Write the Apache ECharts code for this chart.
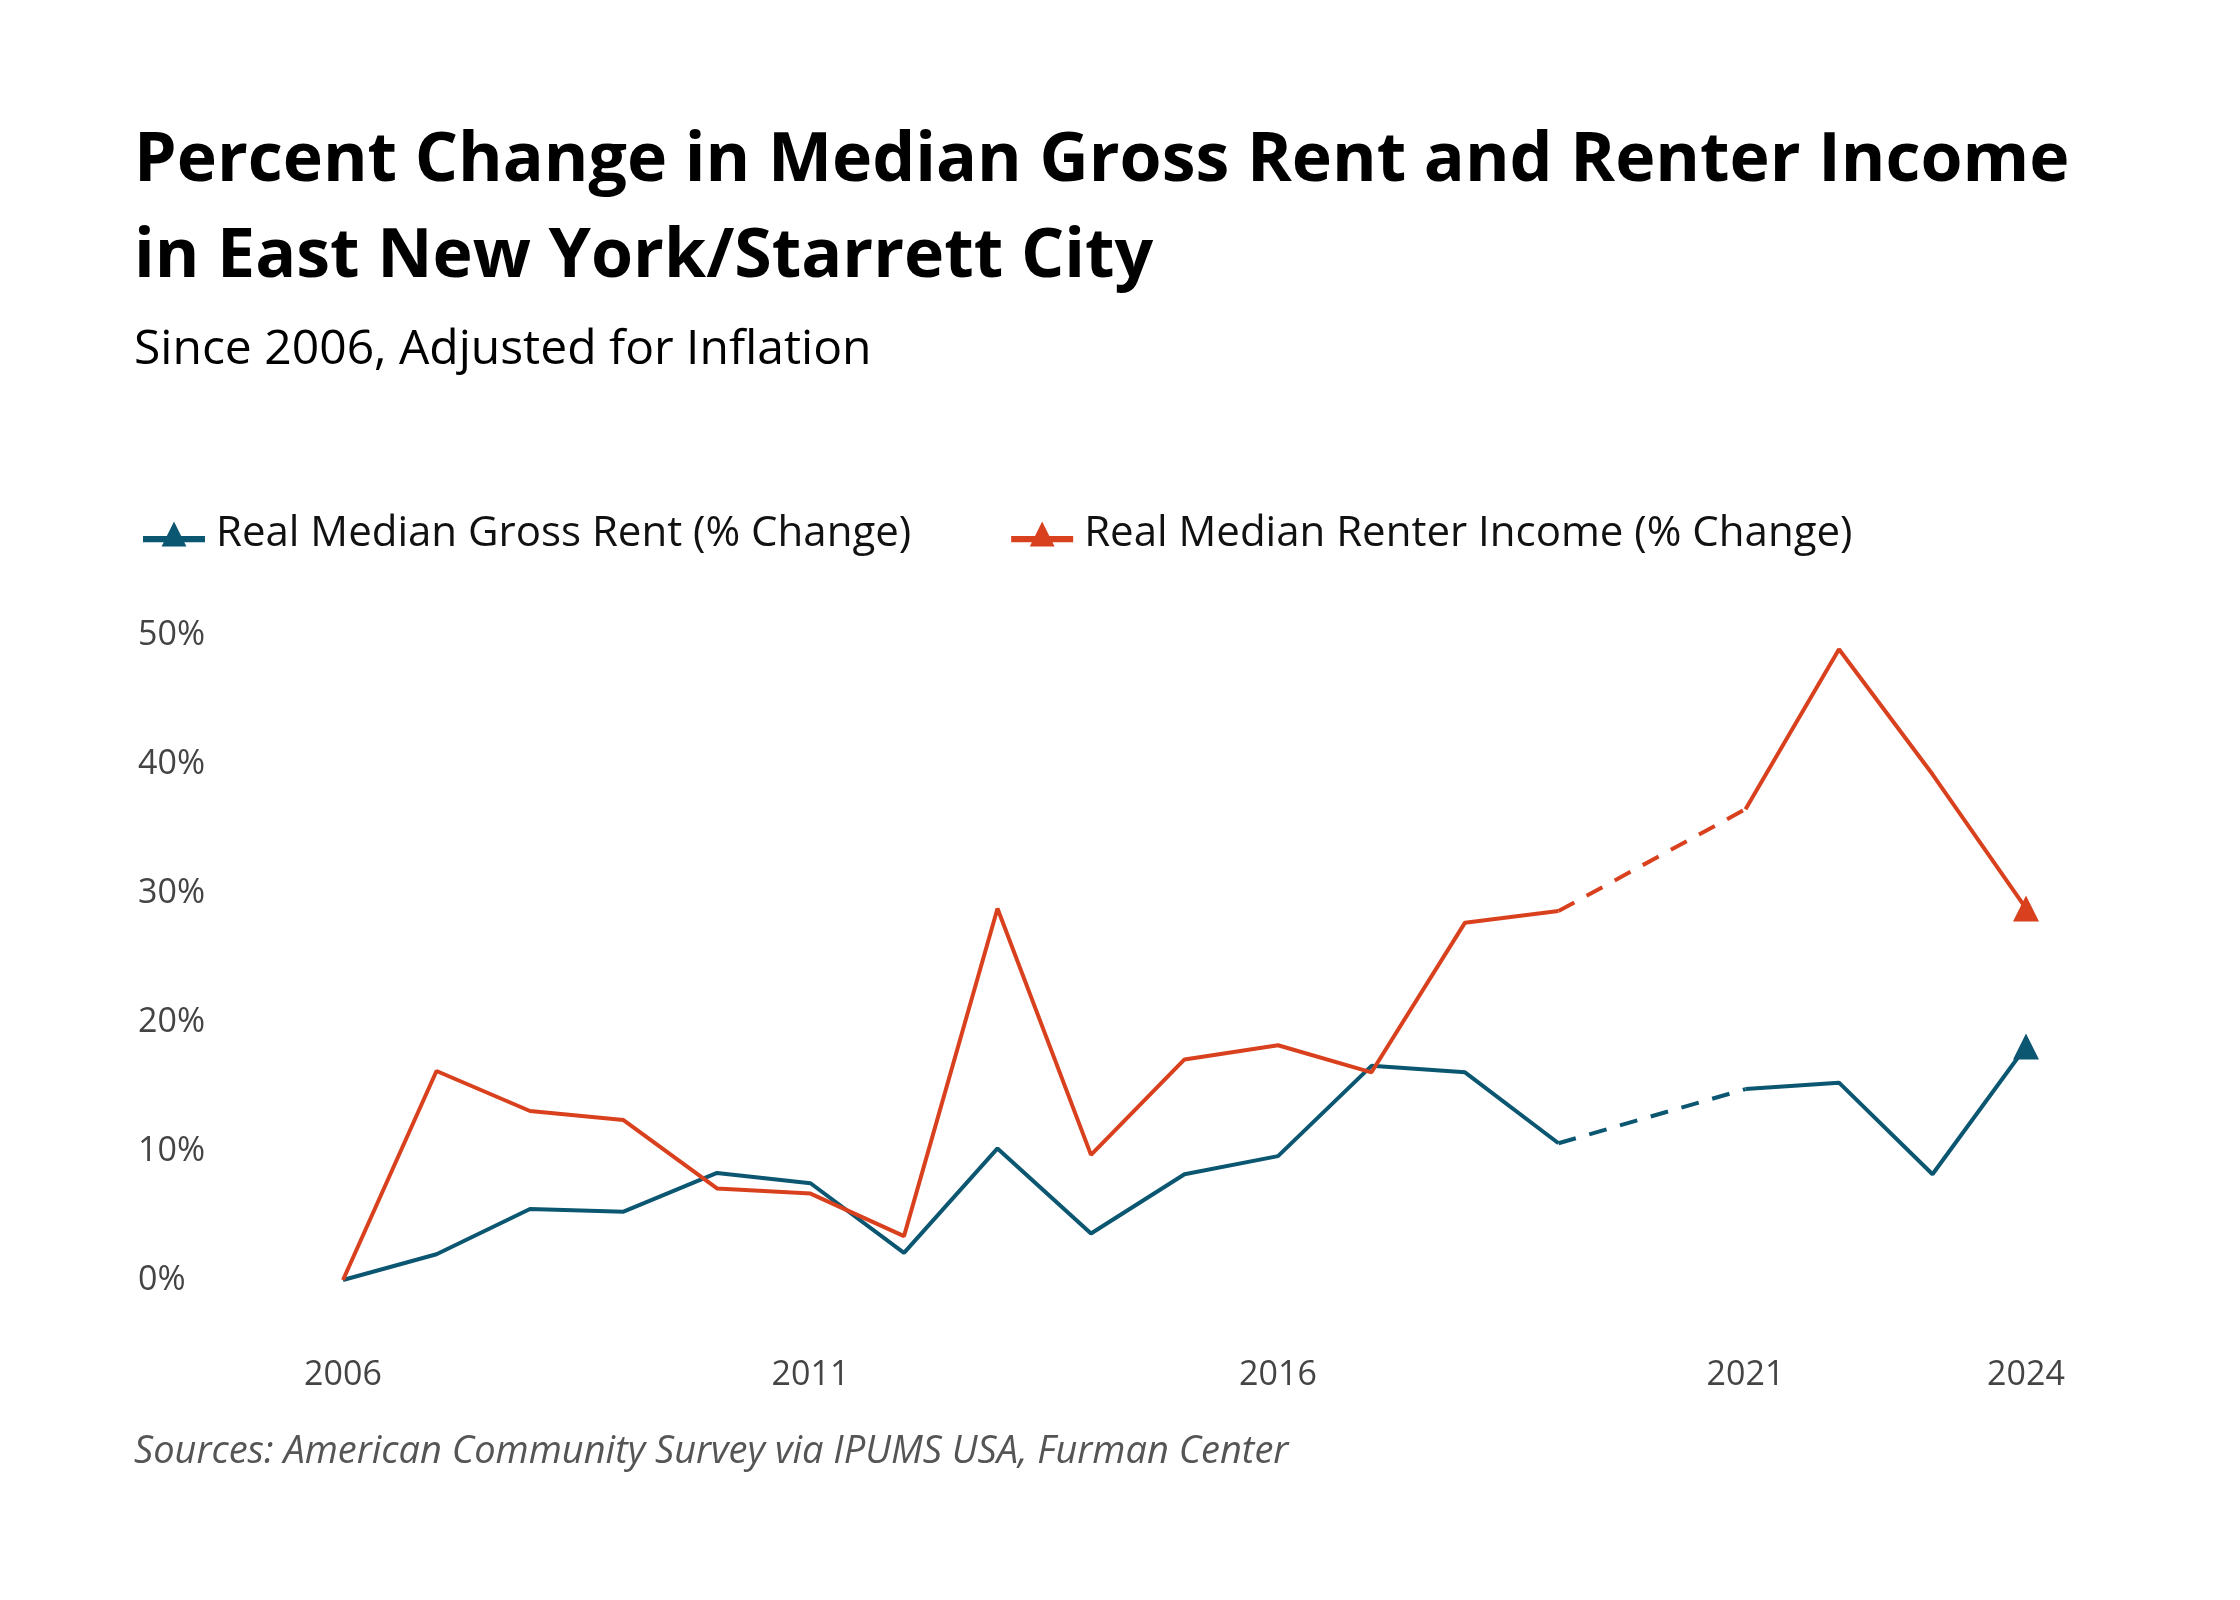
<!DOCTYPE html>
<html><head><meta charset="utf-8">
<script src="https://cdn.jsdelivr.net/npm/echarts@6/dist/echarts.min.js"></script>
<style>html,body{margin:0;background:#fff}#c{width:2240px;height:1600px}</style>
</head><body><div id="c"></div>
<script>
const years = [2006,2007,2008,2009,2010,2011,2012,2013,2014,2015,2016,2017,2018,2019,2020,2021,2022,2023,2024];
const rent = [0,2,5.5,5.3,8.3,7.5,2.1,10.2,3.6,8.2,9.6,16.6,16.1,10.6,null,14.8,15.3,8.2,18.1];
const income = [0,16.2,13.1,12.4,7.1,6.7,3.4,28.8,9.7,17.1,18.2,16.1,27.7,28.6,null,36.5,48.9,39.2,28.8];
const xTicks = [2006,2011,2016,2021,2024];
const yTicks = [0,10,20,30,40,50];
const BLUE='#0b5670', RED='#d9411e';
function solid(vals){return years.map((y,i)=>{
  if(vals[i]===null) return [y,'-'];
  if(i===years.length-1) return {value:[y,vals[i]],symbol:'triangle',symbolSize:26};
  return [y,vals[i]];});}
function dashed(vals){const a=years.indexOf(2019),b=years.indexOf(2021);return [[2019,vals[a]],[2021,vals[b]]];}
const chart = echarts.init(document.getElementById('c'));
const icon='path://M0,9L30,9L30,12L0,12Z M9,14L15,2L21,14Z';
chart.setOption({
  animation:false,
  textStyle:{fontFamily:'Open Sans'},
  graphic:[
    {type:'text',left:134,top:128,style:{text:'Percent Change in Median Gross Rent and Renter Income',font:'bold 68px "Open Sans"',fill:'#000'}},
    {type:'text',left:134,top:224,style:{text:'in East New York/Starrett City',font:'bold 68px "Open Sans"',fill:'#000'}},
    {type:'text',left:134,top:326,style:{text:'Since 2006, Adjusted for Inflation',font:'48px "Open Sans"',fill:'#000'}},
    {type:'text',left:134,top:1433,style:{text:'Sources: American Community Survey via IPUMS USA, Furman Center',font:'italic 38px "Open Sans"',fill:'#555'}}
  ],
  legend:{left:138,top:508,itemWidth:62,itemHeight:28,itemGap:100,icon:icon,
    textStyle:{fontSize:42,color:'#111',fontFamily:'Open Sans',padding:[0,0,0,6]},
    data:[{name:'Real Median Gross Rent (% Change)',itemStyle:{color:BLUE}},{name:'Real Median Renter Income (% Change)',itemStyle:{color:RED}}]},
  grid:{left:343,right:214,top:635,bottom:320},
  xAxis:{type:'value',min:2006,max:2024,axisLine:{show:false},axisTick:{show:false},splitLine:{show:false},
    axisLabel:{customValues:xTicks,margin:78,fontSize:34,color:'#444',formatter:v=>String(v)}},
  yAxis:{type:'value',min:0,max:50,interval:10,axisLine:{show:false},axisTick:{show:false},splitLine:{show:false},
    axisLabel:{align:'left',margin:205,fontSize:34,color:'#444',formatter:v=>v+'%'}},
  series:[
    {name:'Real Median Gross Rent (% Change)',type:'line',data:solid(rent),symbol:'none',showSymbol:true,connectNulls:false,lineStyle:{color:BLUE,width:4},itemStyle:{color:BLUE}},
    {name:'Real Median Gross Rent (% Change)',type:'line',data:dashed(rent),symbol:'none',lineStyle:{color:BLUE,width:4,type:[18,14]}},
    {name:'Real Median Renter Income (% Change)',type:'line',data:solid(income),symbol:'none',showSymbol:true,connectNulls:false,lineStyle:{color:RED,width:4},itemStyle:{color:RED}},
    {name:'Real Median Renter Income (% Change)',type:'line',data:dashed(income),symbol:'none',lineStyle:{color:RED,width:4,type:[18,14]}}
  ]
});
</script></body></html>
